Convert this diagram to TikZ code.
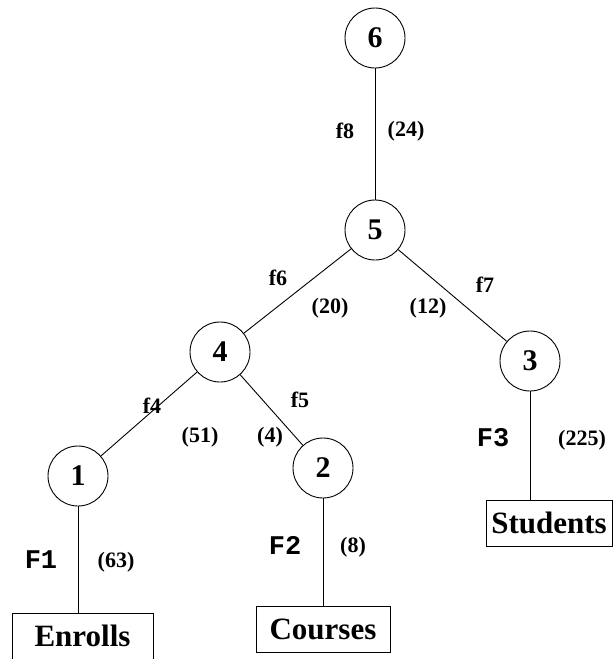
\documentclass[tikz,border=0pt]{standalone}
\usepackage{fontspec}
\setmainfont{Liberation Serif}
\setmonofont{Liberation Mono}
\usetikzlibrary{positioning}

\begin{document}
\begin{tikzpicture}[
    x=1pt, y=-1pt,
    line width=0.9pt,
    op/.style={circle, draw, minimum size=60pt, inner sep=0pt, font=\fontsize{30}{30}\selectfont\bfseries},
    rel/.style={rectangle, draw, inner sep=0pt, minimum height=46pt, font=\fontsize{31}{31}\selectfont\bfseries},
    flab/.style={draw=none, font=\fontsize{22}{22}\selectfont\bfseries},
    card/.style={draw=none, font=\fontsize{22}{22}\selectfont\bfseries},
    frag/.style={draw=none, font=\fontsize{27}{27}\selectfont\ttfamily\bfseries}
]
\useasboundingbox (0,0) rectangle (616,659);

% Operator nodes
\node[op] (n6) at (375,38) {6};
\node[op] (n5) at (375,230) {5};
\node[op] (n4) at (220,352) {4};
\node[op] (n3) at (530,361) {3};
\node[op] (n2) at (323,468) {2};
\node[op] (n1) at (78,476) {1};

% Base relations
\node[rel, minimum width=141pt] (enrolls) at (82.5,636) {Enrolls};
\node[rel, minimum width=134pt] (courses) at (323,629.5) {Courses};
\node[rel, minimum width=126pt] (students) at (549,523) {Students};

% Edges
\draw (n6) -- (n5);
\draw (n5) -- (n4);
\draw (n5) -- (n3);
\draw (n4) -- (n1);
\draw (n4) -- (n2);
\draw (n1) -- (n1 |- enrolls.north);
\draw (n2) -- (n2 |- courses.north);
\draw (n3) -- (n3 |- students.north);

% Labels
\node[flab] (lf8) at (345,131) {f8};
\node[card] (c24) at (406,131) {(24)};
\node[flab] (lf6) at (278,278) {f6};
\node[card] (c20) at (330,308) {(20)};
\node[card] (c12) at (428,308) {(12)};
\node[flab] (lf7) at (485,285) {f7};
\node[flab] (lf4) at (152,406) {f4};
\node[card] (c51) at (200,437) {(51)};
\node[card] (c4) at (270,437) {(4)};
\node[flab] (lf5) at (300,400) {f5};
\node[frag] (f1) at (41,560) {F1};
\node[card] (c63) at (116,562) {(63)};
\node[frag] (f2) at (285,545) {F2};
\node[card] (c8) at (353,547) {(8)};
\node[frag] (f3) at (493,438) {F3};
\node[card] (c225) at (582,440) {(225)};

\end{tikzpicture}
\end{document}
